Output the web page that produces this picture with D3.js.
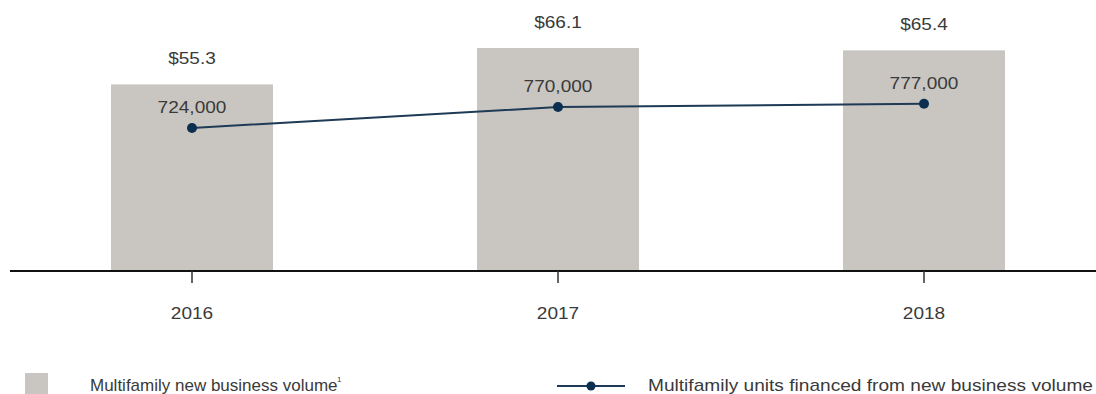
<!DOCTYPE html>
<html>
<head>
<meta charset="utf-8">
<script src="https://cdn.jsdelivr.net/npm/d3@7"></script>
<style>
  html, body { margin: 0; padding: 0; background: #fff; }
  svg { display: block; }
  text { font-family: "Liberation Sans", Arial, sans-serif; fill: #3a3a3a; }
</style>
</head>
<body>
<svg id="chart" width="1096" height="394"></svg>
<script>
// Multifamily new business volume ($ billions) and units financed, by year
const years = ["2016", "2017", "2018"];
const volume = [55.3, 66.1, 65.4];
const volumeLabels = ["$55.3", "$66.1", "$65.4"];
const units = [724000, 770000, 777000];
const unitLabels = ["724,000", "770,000", "777,000"];
const legendLabels = ["Multifamily new business volume", "Multifamily units financed from new business volume"];

const svg = d3.select("#chart");
const baseY = 271;
const stretch = 1.12; // labels are set slightly wide

const x = d3.scalePoint().domain(years).range([192, 924]);
const barWidth = 162;

const yBar = d3.scaleLinear().domain([0, 66.1]).range([baseY, 48]);
const yLine = d3.scaleLinear().domain([700000, 800000]).range([139, 93.3]);

const barColor = "#c9c6c1";
const lineColor = "#1e3a56";
const dotColor = "#0c2e50";

function label(sel, px, py) {
  return sel.attr("transform", (d, i) => `translate(${px(d, i)},${py(d, i)}) scale(${stretch},1)`)
    .attr("text-anchor", "middle")
    .attr("font-size", 17);
}

// bars
svg.append("g").selectAll("rect").data(years).join("rect")
  .attr("x", d => x(d) - barWidth / 2)
  .attr("y", (d, i) => yBar(volume[i]))
  .attr("width", barWidth)
  .attr("height", (d, i) => baseY - yBar(volume[i]))
  .attr("fill", barColor);

// bar value labels
label(svg.append("g").selectAll("text").data(years).join("text"),
  d => x(d), (d, i) => yBar(volume[i]) - 20)
  .text((d, i) => volumeLabels[i]);

// x axis
const axis = svg.append("g").attr("transform", `translate(0,${baseY})`);
axis.append("line").attr("x1", 10).attr("x2", 1096).attr("stroke", "#111").attr("stroke-width", 2);
axis.selectAll(".tick").data(years).join("line")
  .attr("x1", d => x(d)).attr("x2", d => x(d))
  .attr("y1", 0).attr("y2", 12)
  .attr("stroke", "#333").attr("stroke-width", 1.5);
label(axis.selectAll(".lbl").data(years).join("text"), d => x(d), () => 48)
  .text(d => d);

// units line
const line = d3.line().x((d, i) => x(years[i])).y(d => yLine(d));
svg.append("path").datum(units)
  .attr("d", line)
  .attr("fill", "none")
  .attr("stroke", lineColor)
  .attr("stroke-width", 2);

svg.append("g").selectAll("circle").data(units).join("circle")
  .attr("cx", (d, i) => x(years[i]))
  .attr("cy", d => yLine(d))
  .attr("r", 5)
  .attr("fill", dotColor);

label(svg.append("g").selectAll("text").data(units).join("text"),
  (d, i) => x(years[i]), d => yLine(d) - 15)
  .text((d, i) => unitLabels[i]);

// legend
const legend = svg.append("g");
legend.append("rect").attr("x", 25).attr("y", 373).attr("width", 23).attr("height", 23).attr("fill", barColor);
legend.append("text").attr("x", 90).attr("y", 391).attr("font-size", 17)
  .text(legendLabels[0]);
legend.append("text").attr("x", 337).attr("y", 382).attr("font-size", 8).text("1");

legend.append("line").attr("x1", 557).attr("x2", 625).attr("y1", 386).attr("y2", 386)
  .attr("stroke", lineColor).attr("stroke-width", 2);
legend.append("circle").attr("cx", 591).attr("cy", 386).attr("r", 4.5).attr("fill", dotColor);
legend.append("text").attr("x", 648).attr("y", 391).attr("font-size", 17)
  .attr("textLength", 445).attr("lengthAdjust", "spacingAndGlyphs")
  .text(legendLabels[1]);
</script>
</body>
</html>
